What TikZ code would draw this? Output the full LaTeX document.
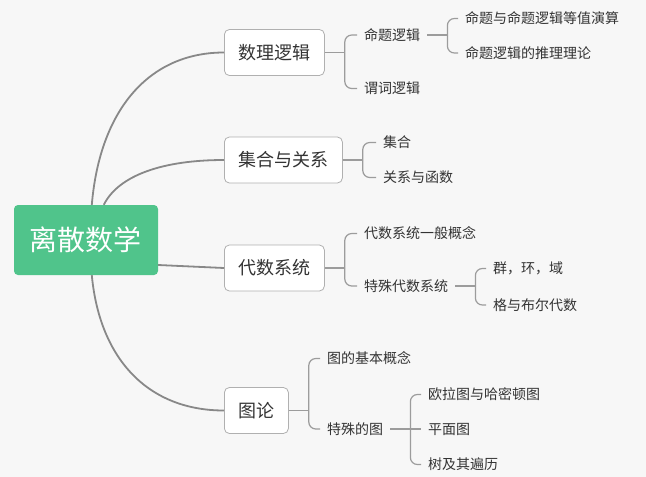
\documentclass[tikz,border=0pt]{standalone}
\usepackage{fontspec}
\newfontfamily\cjk{Noto Sans CJK SC}
\definecolor{bg}{HTML}{F7F7F7}
\definecolor{rootgreen}{HTML}{50C48B}
\definecolor{trunkgray}{HTML}{888888}
\definecolor{twiggray}{HTML}{9C9C9C}
\definecolor{boxgray}{HTML}{B0B0B0}
\definecolor{txt}{HTML}{333333}
\begin{document}
\begin{tikzpicture}[x=1pt,y=-1pt,
  rootbox/.style={fill=rootgreen, rounded corners=4pt, minimum width=144pt, minimum height=70pt, text=white, inner sep=0pt, font=\cjk\fontsize{28}{30}\selectfont},
  mainbox/.style={draw=boxgray, fill=white, rounded corners=5pt, line width=0.8pt, text=txt, inner xsep=14pt, minimum height=46pt, anchor=west, font=\cjk\fontsize{18}{20}\selectfont},
  leaf/.style={anchor=west, inner xsep=7pt, inner ysep=2pt, text=txt, font=\cjk\fontsize{14}{16}\selectfont},
  trunk/.style={draw=trunkgray, line width=1.8pt},
  twig/.style={draw=twiggray, line width=1.2pt, rounded corners=7pt}]
\fill[bg] (0,0) rectangle (646,477);
\useasboundingbox (0,0) rectangle (646,477);

% root and main nodes
\node[rootbox] (root) at (86,240) {离散数学};
\node[mainbox] (logic) at (224,52.5) {数理逻辑};
\node[mainbox] (sets) at (224,160) {集合与关系};
\node[mainbox] (alg) at (224,268) {代数系统};
\node[mainbox] (graph) at (224,410.5) {图论};

% trunk connectors
\draw[trunk] ([xshift=78pt]root.north west) .. controls +(8,-95) and +(-75,0) .. (logic.west);
\draw[trunk] ([xshift=90pt]root.north west) .. controls +(15,-30) and +(-60,0) .. (sets.west);
\draw[trunk] ([yshift=-25pt]root.east) -- (alg.west);
\draw[trunk] ([xshift=78pt]root.south west) .. controls +(8,85) and +(-75,0) .. (graph.west);

% logic
\node[leaf] (prop) at (357,35) {命题逻辑};
\node[leaf] (pred) at (357,88.5) {谓词逻辑};
\coordinate (jlogic) at ([xshift=20pt]logic.east);
\draw[twig] (logic.east) -- (jlogic);
\draw[twig] (jlogic) |- (prop.west);
\draw[twig] (jlogic) |- (pred.west);
\node[leaf] (prop1) at (458,18.5) {命题与命题逻辑等值演算};
\node[leaf] (prop2) at (458,53) {命题逻辑的推理理论};
\coordinate (jprop) at ([xshift=20pt]prop.east);
\draw[twig] (prop.east) -- (jprop);
\draw[twig] (jprop) |- (prop1.west);
\draw[twig] (jprop) |- (prop2.west);

% sets
\node[leaf] (set) at (376,142.5) {集合};
\node[leaf] (rel) at (376,177.5) {关系与函数};
\coordinate (jsets) at ([xshift=20pt]sets.east);
\draw[twig] (sets.east) -- (jsets);
\draw[twig] (jsets) |- (set.west);
\draw[twig] (jsets) |- (rel.west);

% algebra
\node[leaf] (gen) at (357,233.5) {代数系统一般概念};
\node[leaf] (spec) at (357,286) {特殊代数系统};
\coordinate (jalg) at ([xshift=20pt]alg.east);
\draw[twig] (alg.east) -- (jalg);
\draw[twig] (jalg) |- (gen.west);
\draw[twig] (jalg) |- (spec.west);
\node[leaf] (grp) at (486,268.5) {群，环，域};
\node[leaf] (lat) at (486,305) {格与布尔代数};
\coordinate (jspec) at ([xshift=20pt]spec.east);
\draw[twig] (spec.east) -- (jspec);
\draw[twig] (jspec) |- (grp.west);
\draw[twig] (jspec) |- (lat.west);

% graph
\node[leaf] (basic) at (320,358.5) {图的基本概念};
\node[leaf] (sgraph) at (320,429) {特殊的图};
\coordinate (jgraph) at ([xshift=20pt]graph.east);
\draw[twig] (graph.east) -- (jgraph);
\draw[twig] (jgraph) |- (basic.west);
\draw[twig] (jgraph) |- (sgraph.west);
\node[leaf] (euler) at (421,394.5) {欧拉图与哈密顿图};
\node[leaf] (planar) at (421,429) {平面图};
\node[leaf] (tree) at (421,464.5) {树及其遍历};
\coordinate (jsg) at ([xshift=20pt]sgraph.east);
\draw[twig] (sgraph.east) -- (jsg);
\draw[twig] (jsg) |- (euler.west);
\draw[twig] (jsg) -- (planar.west);
\draw[twig] (jsg) |- (tree.west);
\end{tikzpicture}
\end{document}
